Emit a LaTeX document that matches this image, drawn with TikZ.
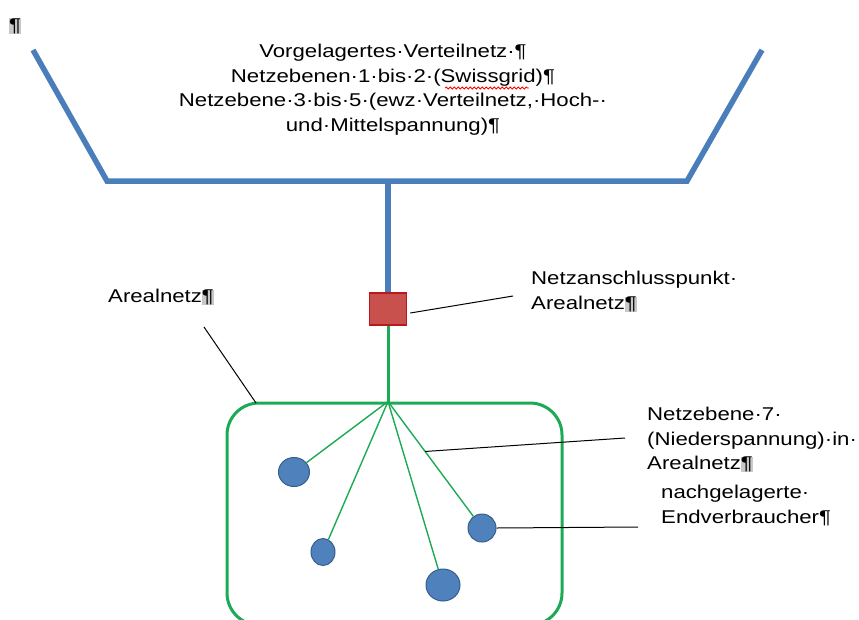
\documentclass[tikz,border=0pt]{standalone}
\usepackage{fontspec}
\setmainfont{Liberation Sans}[FakeStretch=1.2]
\usepackage{tikz}
\usetikzlibrary{shapes.geometric,decorations.pathmorphing,positioning}
\definecolor{netzblue}{HTML}{4A7EBB}
\definecolor{ballblue}{HTML}{4F81BD}
\definecolor{ballrim}{HTML}{385D8A}
\definecolor{anschlussred}{HTML}{C8504D}
\definecolor{anschlussrim}{HTML}{B8181E}
\definecolor{arealgreen}{HTML}{1DAA55}
\definecolor{markgray}{HTML}{C8C8C8}
\newcommand{\parmark}{{\setlength{\fboxsep}{0pt}\colorbox{markgray}{¶}}}

\begin{document}
\begin{tikzpicture}[x=1pt,y=-1pt,
 txt/.style={font=\fontsize{18.5}{24.5}\selectfont,inner sep=0pt},
 netz/.style={draw=netzblue,line width=5.5pt},
 areal/.style={draw=arealgreen,line width=3pt},
 branch/.style={draw=arealgreen,line width=1.4pt},
 ball/.style={ellipse,draw=ballrim,fill=ballblue,line width=1pt,inner sep=0pt},
 callout/.style={draw=black,line width=1pt},
 spellwave/.style={draw=red,line width=0.8pt,decorate,decoration={snake,segment length=4pt,amplitude=1pt}}]
\useasboundingbox (0,0) rectangle (859,619);
\coordinate (linksoben) at (33,50);
\coordinate (linksunten) at (107,181);
\coordinate (rechtsunten) at (687,181);
\coordinate (rechtsoben) at (762,50);
\coordinate (abzweig) at (388,181);
\draw[netz] (linksoben) -- (linksunten) -- (rechtsunten) -- (rechtsoben);
\node[draw=anschlussrim,fill=anschlussred,line width=1.5pt,minimum width=37pt,minimum height=32pt,inner sep=0pt] (anschluss) at (388,309) {};
\draw[netz] (abzweig) -- (anschluss.north);
\node[areal,rounded corners=32pt,minimum width=335pt,minimum height=222pt] (areal) at (394.5,514) {};
\coordinate (nabe) at (areal.north -| anschluss.south);
\draw[areal] (anschluss.south) -- (nabe);
\node[ball,minimum width=31pt,minimum height=29pt] (kunde1) at (294,472) {};
\node[ball,minimum width=24pt,minimum height=27pt] (kunde2) at (323,552) {};
\node[ball,minimum width=34pt,minimum height=32pt] (kunde3) at (443,585) {};
\node[ball,minimum width=28pt,minimum height=28pt] (kunde4) at (482,528) {};
\foreach \k in {1,...,4} \draw[branch] (nabe) -- (kunde\k);
\node[txt,align=center] (vorgelagert) at (393,89.5) {Vorgelagertes·Verteilnetz·¶\\Netzebenen·1·bis·2·(Swissgrid)¶\\Netzebene·3·bis·5·(ewz·Verteilnetz,·Hoch-·\\und·Mittelspannung)¶};
\coordinate (wellelinks) at (445,88);
\coordinate (wellerechts) at (529,88);
\draw[spellwave] (wellelinks) -- (wellerechts);
\node[txt,fill=markgray] (leermarke) at (15,26) {¶};
\node[txt,anchor=west] (arealtext) at (108,297) {Arealnetz\parmark};
\node[txt,align=left,anchor=west] (anschlusstext) at (531,291.5) {Netzanschlusspunkt·\\Arealnetz\parmark};
\node[txt,align=left,anchor=west] (ne7text) at (647,439.5) {Netzebene·7·\\(Niederspannung)·in·\\Arealnetz\parmark};
\node[txt,align=left,anchor=west] (endtext) at (661,505.5) {nachgelagerte·\\Endverbraucher¶};
\coordinate (arealfuss) at (204,327);
\coordinate (arealecke) at (256,403);
\coordinate (anschlussspitze) at (513,296);
\coordinate (ne7spitze) at (625,438);
\coordinate (endspitze) at (638,527);
\path (nabe) -- (kunde4) coordinate[pos=0.435] (ne7punkt);
\draw[callout] (arealfuss) -- (arealecke);
\draw[callout] ([shift={(3,4)}]anschluss.east) -- (anschlussspitze);
\draw[callout] (ne7punkt) -- (ne7spitze);
\draw[callout] (kunde4.east) -- (endspitze);
\end{tikzpicture}
\end{document}
